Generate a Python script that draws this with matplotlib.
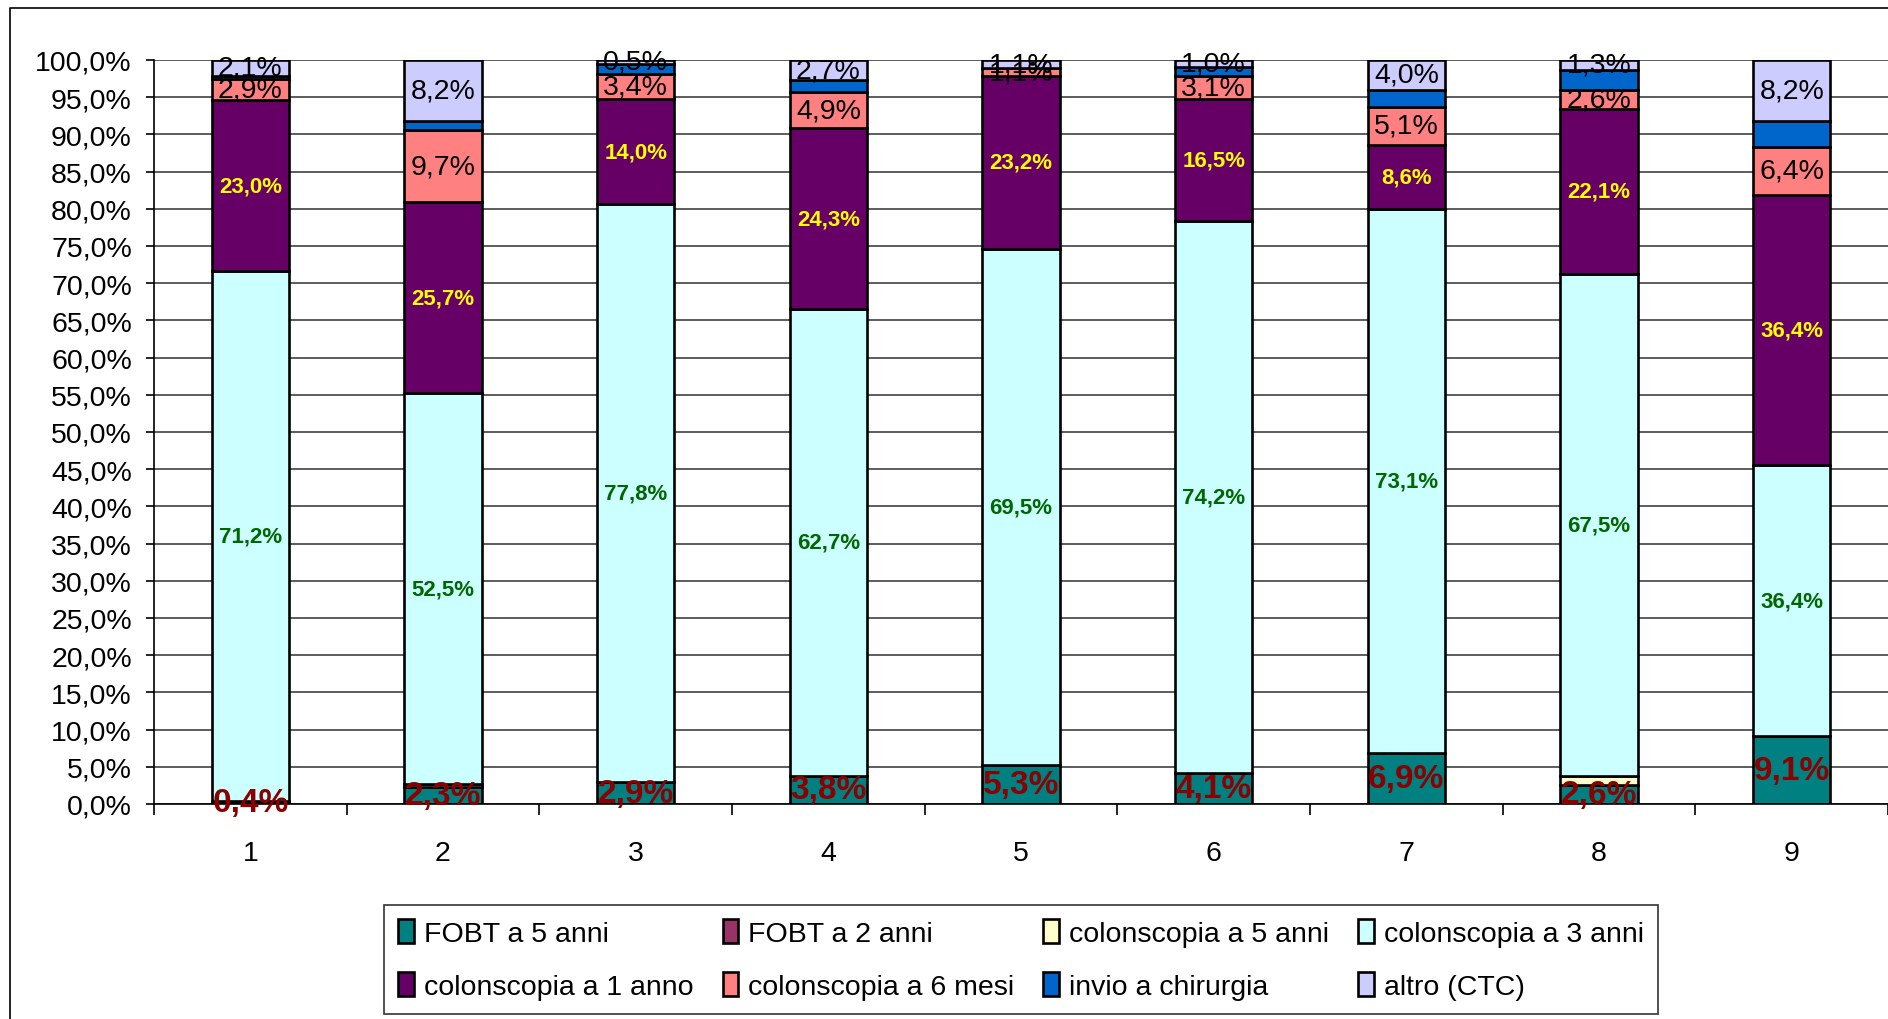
import matplotlib
matplotlib.use("Agg")
import matplotlib.pyplot as plt
import numpy as np
from matplotlib.lines import Line2D
from matplotlib.ticker import FixedLocator

plt.rcParams['font.family'] = ['Liberation Sans', 'DejaVu Sans']

categories = ['1', '2', '3', '4', '5', '6', '7', '8', '9']
series_names = ['FOBT a 5 anni', 'FOBT a 2 anni', 'colonscopia a 5 anni', 'colonscopia a 3 anni',
                'colonscopia a 1 anno', 'colonscopia a 6 mesi', 'invio a chirurgia', 'altro (CTC)']
fobt5 = [0.4, 2.3, 2.9, 3.8, 5.3, 4.1, 6.9, 2.6, 9.1]
fobt2 = [0.0, 0.0, 0.0, 0.0, 0.0, 0.0, 0.0, 0.0, 0.0]
colon5 = [0.0, 0.4, 0.0, 0.0, 0.0, 0.0, 0.0, 1.2, 0.0]
colon3 = [71.2, 52.5, 77.8, 62.7, 69.5, 74.2, 73.1, 67.5, 36.4]
colon1 = [23.0, 25.7, 14.0, 24.3, 23.2, 16.5, 8.6, 22.1, 36.4]
colon6m = [2.9, 9.7, 3.4, 4.9, 1.1, 3.1, 5.1, 2.6, 6.4]
chirurgia = [0.4, 1.2, 1.4, 1.6, 0.0, 1.1, 2.3, 2.7, 3.5]
altro = [2.1, 8.2, 0.5, 2.7, 1.1, 1.0, 4.0, 1.3, 8.2]
yticks = [0, 5, 10, 15, 20, 25, 30, 35, 40, 45, 50, 55, 60, 65, 70, 75, 80, 85, 90, 95, 100]

colors = ['#008080', '#993366', '#FFFFCC', '#CCFFFF', '#660066', '#FF8080', '#0066CC', '#CCCCFF']
# label style per series: (color, size, weight) or None
label_styles = [('#8B0000', 24, 'bold'), None, None, ('#006600', 16, 'bold'),
                ('#FFFF00', 16, 'bold'), ('black', 20.5, 'normal'), None, ('black', 20.5, 'normal')]

data = np.array([fobt5, fobt2, colon5, colon3, colon1, colon6m, chirurgia, altro])
totals = data.sum(axis=0)
heights = data / totals * 100.0

fig = plt.figure(figsize=(18.88, 10.20), dpi=100)
ax = fig.add_axes([154/1888, 1-805/1020, 1-154/1888, (805-61)/1020])

x = np.arange(1, len(categories) + 1)
bottom = np.zeros(len(categories))
bars = []
for i, name in enumerate(series_names):
    b = ax.bar(x, heights[i], 0.4, bottom=bottom, color=colors[i], edgecolor='black',
               linewidth=1.9, label=name, zorder=3)
    bars.append(b)
    st = label_styles[i]
    if st is not None:
        for j in range(len(categories)):
            ax.text(x[j], bottom[j] + heights[i][j] / 2,
                    ('%.1f%%' % data[i][j]).replace('.', ','),
                    ha='center', va='center', color=st[0], fontsize=st[1],
                    fontweight=st[2], zorder=5, clip_on=False)
    bottom += heights[i]

ax.set_xlim(0.5, len(categories) + 0.5)
ax.set_ylim(0, 100)
ax.set_yticks(yticks)
ax.set_yticklabels([('%.1f%%' % v).replace('.', ',') for v in yticks])
ax.set_xticks(x)
ax.set_xticklabels(categories)
ax.xaxis.set_minor_locator(FixedLocator(np.arange(0.5, len(categories) + 1, 1.0)))
ax.tick_params(axis='x', which='major', length=0, pad=26, labelsize=20.5)
ax.tick_params(axis='x', which='minor', length=8, width=1.2, color='black')
ax.tick_params(axis='y', which='major', length=6, width=1.2, pad=10, labelsize=20.5)
ax.grid(axis='y', color='#303030', linewidth=1.1, zorder=0)
for s in ['top', 'right']:
    ax.spines[s].set_visible(False)
ax.spines['left'].set_linewidth(1.2)
ax.spines['bottom'].set_linewidth(1.2)
ax.spines['bottom'].set_zorder(4)

# outer chart border
fig.add_artist(Line2D([10/1888, 10/1888, 1.0], [0.0, 1-9/1020, 1-9/1020],
                      transform=fig.transFigure, color='black', linewidth=1.2))

order = [0, 4, 1, 5, 2, 6, 3, 7]
leg = fig.legend([bars[k] for k in order], [series_names[k] for k in order],
                 loc='center', ncol=4, mode='expand',
                 bbox_to_anchor=(384/1888, 1-1014/1020, (1658-384)/1888, (1014-907)/1020),
                 fontsize=20.5, frameon=True, fancybox=False, edgecolor='black',
                 handlelength=0.55, handleheight=0.9, handletextpad=0.35,
                 labelspacing=0.9, borderpad=0.5, columnspacing=0.6, borderaxespad=0)
leg.get_frame().set_linewidth(1.2)

fig.savefig('out.png', dpi=100)
